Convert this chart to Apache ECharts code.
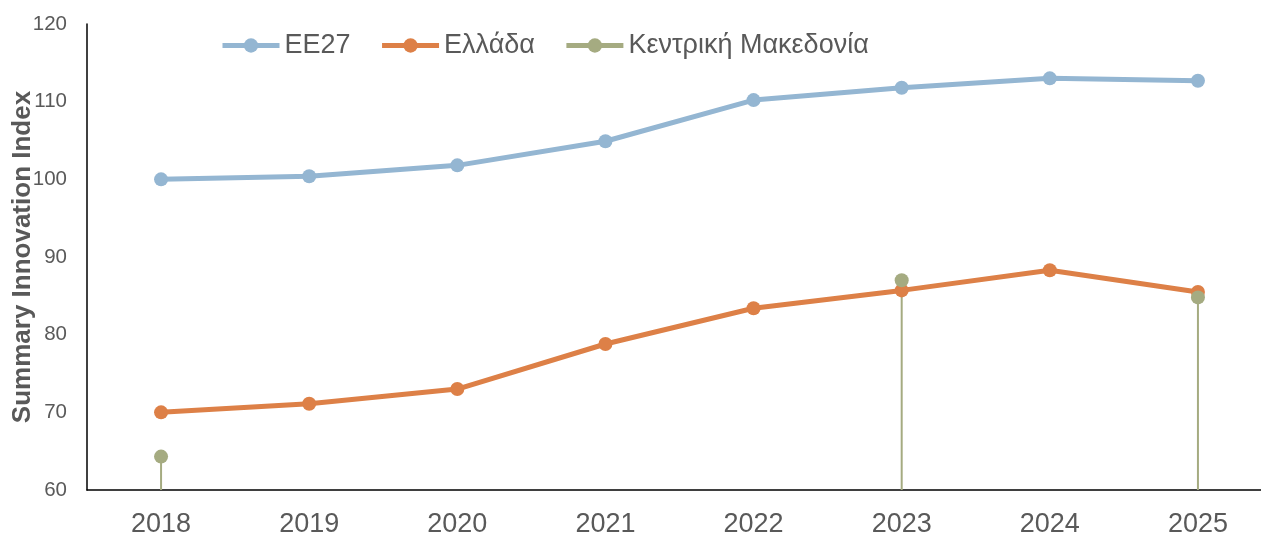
<!DOCTYPE html>
<html>
<head>
<meta charset="utf-8">
<script src="https://cdn.jsdelivr.net/npm/echarts@6/dist/echarts.min.js"></script>
<style>
  html, body { margin: 0; padding: 0; background: #fff; }
  #chart { width: 1261px; height: 535px; }
</style>
</head>
<body>
<div id="chart"></div>
<script>
// x axis categories
const years = ['2018', '2019', '2020', '2021', '2022', '2023', '2024', '2025']
// series values
const ee27 = [100.0, 100.4, 101.8, 104.9, 110.2, 111.8, 113.0, 112.7]
const greece = [70.0, 71.1, 73.0, 78.8, 83.4, 85.7, 88.3, 85.5]
const centralMacedonia = [64.3, null, null, null, null, 87.0, null, 84.8]
const seriesNames = ['EE27', 'Ελλάδα', 'Κεντρική Μακεδονία']

const colorArr = ['#94B6D2', '#DD8047', '#A5AB81']
const textColor = '#595959'

const chart = echarts.init(document.getElementById('chart'))

const lineSeries = [ee27, greece, centralMacedonia].map((data, index) => {
  return {
    name: seriesNames[index],
    type: 'line',
    data: data,
    z: 3 + index,
    symbol: 'circle',
    symbolSize: 14,
    connectNulls: false,
    lineStyle: { color: colorArr[index], width: 5 },
    itemStyle: { color: colorArr[index] },
  }
})

// drop lines for Κεντρική Μακεδονία
const dropLines = {
  name: 'drop',
  type: 'bar',
  data: centralMacedonia,
  barWidth: 2,
  z: 2,
  itemStyle: { color: colorArr[2] },
  silent: true,
}

const option = {
  animation: false,
  textStyle: { fontFamily: 'Liberation Sans, Arial, sans-serif' },
  grid: { left: 87, top: 24, right: -11, bottom: 45, outerBoundsMode: 'none' },
  legend: {
    data: seriesNames,
    left: 215,
    top: 27,
    itemWidth: 57,
    itemHeight: 18,
    itemGap: 29,
    lineStyle: { width: 5 },
    textStyle: { color: textColor, fontSize: 27 },
  },
  xAxis: {
    type: 'category',
    data: years,
    axisLine: { lineStyle: { color: '#000', width: 1.5 } },
    axisTick: { show: false },
    axisLabel: { color: textColor, fontSize: 27, margin: 21 },
  },
  yAxis: {
    type: 'value',
    min: 60,
    max: 120,
    interval: 10,
    name: 'Summary Innovation Index',
    nameLocation: 'middle',
    nameGap: 51,
    nameMoveOverlap: false,
    nameTextStyle: { color: textColor, fontSize: 26, fontWeight: 'bold' },
    axisLine: { show: true, lineStyle: { color: '#000', width: 1.5 } },
    axisTick: { show: false },
    splitLine: { show: false },
    axisLabel: { color: textColor, fontSize: 20.5, margin: 20 },
  },
  series: [dropLines].concat(lineSeries),
}

chart.setOption(option)
</script>
</body>
</html>
